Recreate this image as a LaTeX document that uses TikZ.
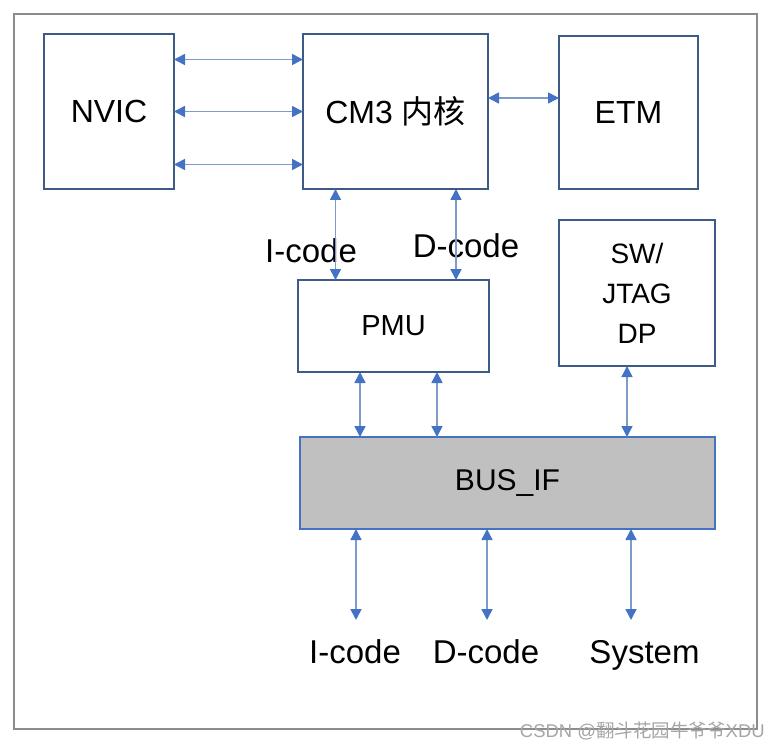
\documentclass[tikz,border=0pt]{standalone}
\usepackage{fontspec}
\setmainfont{Liberation Sans}
\newfontfamily\cjk{Noto Sans CJK SC}
\usetikzlibrary{arrows.meta}

\definecolor{boxline}{HTML}{3E5A87}
\definecolor{linkline}{HTML}{7F9CC8}
\definecolor{tipblue}{HTML}{4472C4}
\definecolor{busgray}{HTML}{C0C0C0}
\definecolor{framegray}{HTML}{8C8C8C}

\tikzset{
  box/.style={draw=boxline, line width=1.4pt, inner sep=0pt, outer sep=0pt,
    font=\fontsize{32}{38}\selectfont},
  link/.style={draw=linkline, line width=1.6pt,
    {Triangle[length=11pt,width=11pt,color=tipblue]}-{Triangle[length=11pt,width=11pt,color=tipblue]}},
  lbl/.style={inner sep=0pt, anchor=base, font=\fontsize{33}{38}\selectfont}
}

\begin{document}
\begin{tikzpicture}[x=1pt,y=-1pt]
  \useasboundingbox (0,0) rectangle (781,751);
  \draw[framegray, line width=2pt] (14,14) rectangle (757,729);

  \node[box, minimum width=130pt, minimum height=155pt] (nvic) at (109,111.5) {NVIC};
  \node[box, minimum width=185pt, minimum height=155pt] (cm3) at (395.5,111.5) {CM3 {\cjk 内核}};
  \node[box, minimum width=139pt, minimum height=153pt] (etm) at (628.5,112.5) {ETM};
  \node[box, minimum width=191pt, minimum height=92pt,
        font=\fontsize{29}{34}\selectfont] (pmu) at (393.5,326) {PMU};
  \node[box, minimum width=156pt, minimum height=146pt, align=center,
        font=\fontsize{28}{40}\selectfont] (sw) at (637,293) {SW/\\JTAG\\DP};
  \node[box, fill=busgray, draw=tipblue, minimum width=415pt, minimum height=92pt,
        font=\fontsize{30}{36}\selectfont] (bus) at (507.5,483) {BUS\_IF};

  \node[lbl] (icodeA) at (311,262) {I-code};
  \node[lbl] (dcodeA) at (466,258) {D-code};
  \node[lbl] (icodeB) at (355,663) {I-code};
  \node[lbl] (dcodeB) at (486,663) {D-code};
  \node[lbl] (sysB) at (644.5,663) {System};

  \coordinate (ic) at (356,620);
  \coordinate (dc) at (487,620);
  \coordinate (sy) at (631,620);

  \draw[link] ([yshift=52pt]nvic.east) -- ([yshift=52pt]cm3.west);
  \draw[link] (nvic.east) -- (cm3.west);
  \draw[link] ([yshift=-53pt]nvic.east) -- ([yshift=-53pt]cm3.west);
  \draw[link] ([yshift=13.5pt]cm3.east) -- ([yshift=13.5pt]cm3.east -| etm.west);
  \draw[link] ([xshift=-60pt]cm3.south) -- ([xshift=-60pt]cm3.south |- pmu.north);
  \draw[link] ([xshift=60.5pt]cm3.south) -- ([xshift=60.5pt]cm3.south |- pmu.north);
  \draw[link] ([xshift=-33.5pt]pmu.south) -- ([xshift=-33.5pt]pmu.south |- bus.north);
  \draw[link] ([xshift=43.5pt]pmu.south) -- ([xshift=43.5pt]pmu.south |- bus.north);
  \draw[link] ([xshift=-10pt]sw.south) -- ([xshift=-10pt]sw.south |- bus.north);
  \draw[link] (ic |- bus.south) -- (ic);
  \draw[link] (dc |- bus.south) -- (dc);
  \draw[link] (sy |- bus.south) -- (sy);

  \node[text=black!35, inner sep=0pt, anchor=east, font=\fontsize{18.5}{22}\selectfont]
    (mark) at (765,731) {CSDN @{\cjk 翻斗花园牛爷爷}XDU};
\end{tikzpicture}
\end{document}
